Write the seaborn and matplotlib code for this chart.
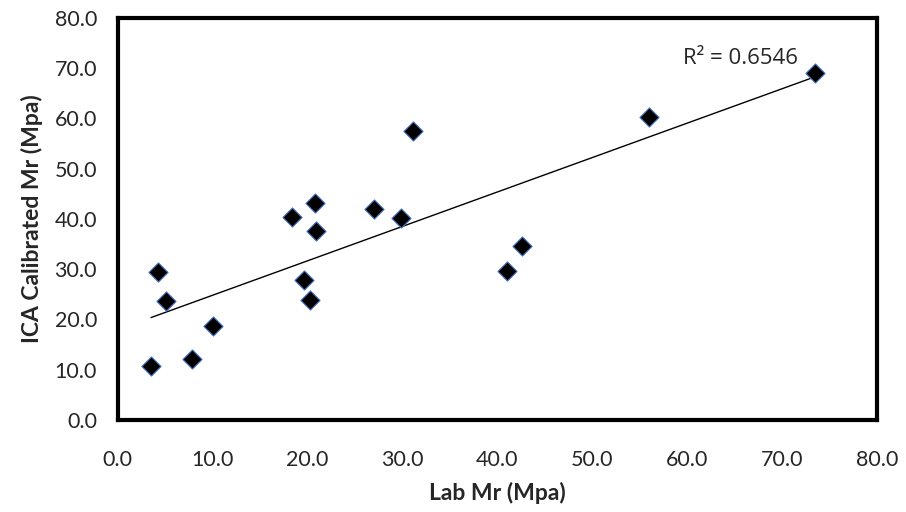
import numpy as np
import pandas as pd
import seaborn as sns
import matplotlib.pyplot as plt

# values
lab_mr = [3.5, 4.2, 5.1, 7.8, 10.0, 18.4, 19.6, 20.3, 20.8, 20.9,
          27.0, 29.8, 31.1, 41.0, 42.6, 56.0, 73.5]
ica_mr = [10.7, 29.5, 23.7, 12.2, 18.7, 40.4, 27.8, 23.8, 43.2, 37.6,
          42.0, 40.1, 57.5, 29.7, 34.6, 60.3, 69.1]
r2_label = "R² = 0.6546"

df = pd.DataFrame({"Lab Mr (Mpa)": lab_mr, "ICA Calibrated Mr (Mpa)": ica_mr})

sns.set_style("white")
plt.rcParams['font.family'] = ['Lato', 'DejaVu Sans']

fig = plt.figure(figsize=(9.06, 5.12), dpi=100)
ax = fig.add_axes([0.130, 0.180, 0.838, 0.785])

sns.regplot(data=df, x="Lab Mr (Mpa)", y="ICA Calibrated Mr (Mpa)", ax=ax,
            ci=None, marker="D",
            scatter_kws=dict(s=95, color="black", alpha=1, edgecolors="#4472C4",
                             linewidths=0.8, zorder=3),
            line_kws=dict(color="black", linewidth=1.0, zorder=2))

ax.set_xlim(0, 80)
ax.set_ylim(0, 80)
ticks = np.arange(0, 81, 10)
ax.set_xticks(ticks)
ax.set_yticks(ticks)
ax.set_xticklabels([f"{v:.1f}" for v in ticks])
ax.set_yticklabels([f"{v:.1f}" for v in ticks])
ax.tick_params(axis='both', length=0, labelsize=15.5)
ax.tick_params(axis='x', pad=22)
ax.tick_params(axis='y', pad=15)

ax.set_xlabel("Lab Mr (Mpa)", fontsize=16.5, fontweight='bold', labelpad=8)
ax.set_ylabel("ICA Calibrated Mr (Mpa)", fontsize=16.5, fontweight='bold', labelpad=8)

for side in ['left', 'right', 'top', 'bottom']:
    ax.spines[side].set_visible(True)
    ax.spines[side].set_color('black')
    ax.spines[side].set_linewidth(3.0)

ax.text(0.82, 0.90, r2_label, transform=ax.transAxes, fontsize=16,
        ha='center', va='center', family=['Open Sans', 'DejaVu Sans'])

fig.savefig("out.png", dpi=100)
